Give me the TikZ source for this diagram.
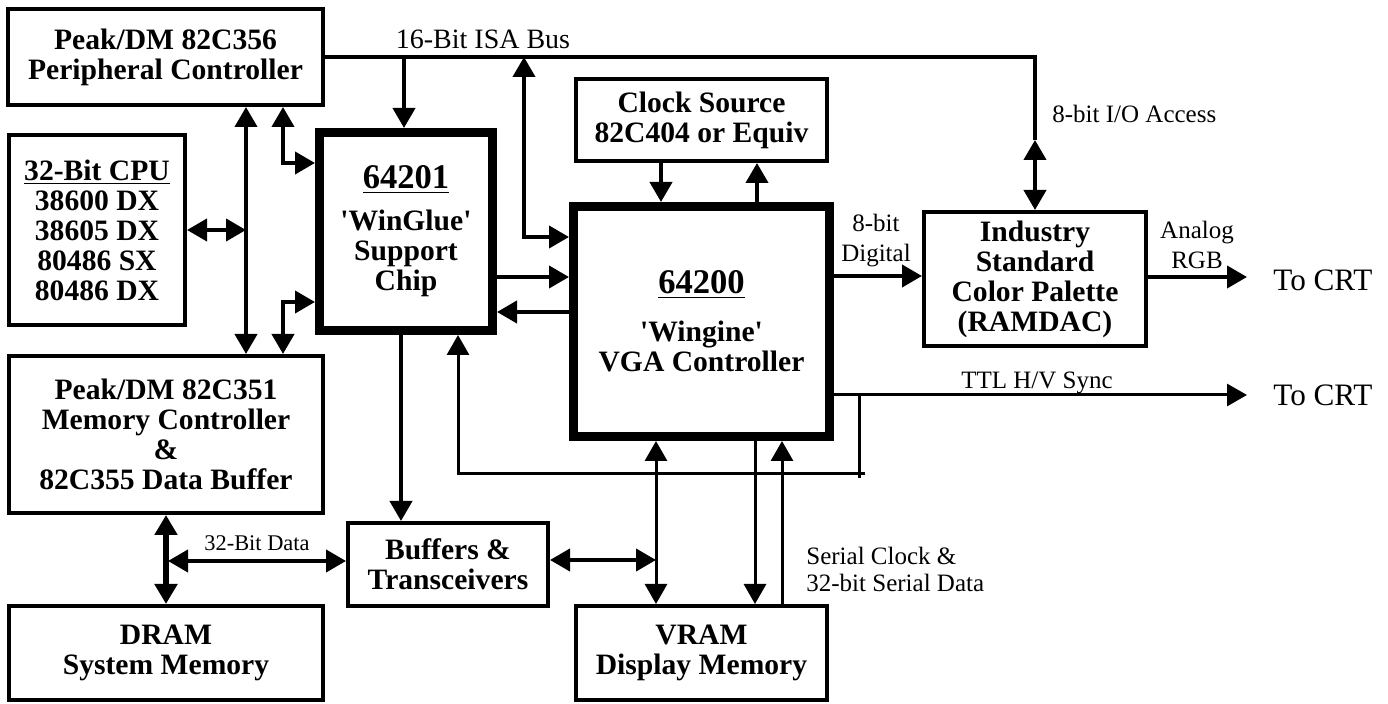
\documentclass[tikz,border=0pt]{standalone}
\usepackage{fontspec}
\setmainfont{Liberation Serif}
\usetikzlibrary{arrows.meta}
\newcommand\bxfont{\fontsize{14.8pt}{15pt}\selectfont\bfseries}
\newcommand\bigfont{\fontsize{17.3pt}{15pt}\selectfont\bfseries}
\newcommand\lbfont{\fontsize{12.5pt}{15pt}\selectfont}
\begin{document}
\begin{tikzpicture}[x=0.5pt,y=-0.5pt, line join=miter,
  >={Triangle[length=10pt,width=11pt]},
  box/.style={draw,line width=2pt,inner sep=0pt,align=center,font=\bxfont},
  heavybox/.style={box,line width=4.5pt},
  wire/.style={line width=2pt},
  thinwire/.style={line width=1.5pt},
  lbl/.style={inner sep=0pt,font=\lbfont},
  crt/.style={inner xsep=13pt,inner ysep=0pt,anchor=west,font=\fontsize{15.6pt}{16pt}\selectfont}]
\useasboundingbox (0,0) rectangle (1388,704);

% boxes
\node[box,minimum width=157.5pt,minimum height=48pt] (periph) at (165.5,57)
  {Peak/DM 82C356\\Peripheral Controller};
\node[box,minimum width=88pt,minimum height=95pt] (cpu) at (97,230)
  {\underline{32-Bit CPU}\\38600 DX\\38605 DX\\80486 SX\\80486 DX};
\node[heavybox,minimum width=86.5pt,minimum height=99pt] (winglue) at (406,231.5)
  {{\bigfont\underline{64201}}\\[6pt]\textquotesingle WinGlue\textquotesingle\\Support\\Chip};
\node[box,minimum width=125.5pt,minimum height=41pt] (clock) at (701.5,120)
  {Clock Source\\82C404 or Equiv};
\node[heavybox,minimum width=128pt,minimum height=115pt] (vga) at (701.5,321.5)
  {{\bigfont\underline{64200}}\\[9pt]\textquotesingle Wingine\textquotesingle\\VGA Controller};
\node[box,minimum width=111pt,minimum height=67pt] (ramdac) at (1035,279)
  {Industry\\Standard\\Color Palette\\(RAMDAC)};
\node[box,minimum width=157pt,minimum height=78.5pt] (memctl) at (166,434.5)
  {Peak/DM 82C351\\Memory Controller\\\&\\82C355 Data Buffer};
\node[box,minimum width=157pt,minimum height=47pt] (dram) at (166,653)
  {DRAM\\System Memory};
\node[box,minimum width=100pt,minimum height=41.5pt] (buffers) at (448,564.5)
  {Buffers \&\\Transceivers};
\node[box,minimum width=125.5pt,minimum height=47pt] (vram) at (701.5,653)
  {VRAM\\Display Memory};

% CRT targets
\node[crt] (crt1) at (1247,280) {To CRT};
\node[crt] (crt2) at (1247,395) {To CRT};

% labels
\node[lbl,anchor=base,font=\fontsize{14pt}{15pt}\selectfont] (isalbl) at (483,49) {16-Bit ISA Bus};
\node[lbl,anchor=base west] (iolbl) at (1052,123) {8-bit I/O Access};
\node[lbl,align=center] (diglbl) at (876,241) {8-bit\\Digital};
\node[lbl,align=center] (anlbl) at (1197,245) {Analog\\RGB};
\node[lbl,anchor=base] (ttllbl) at (1037,389) {TTL H/V Sync};
\node[lbl,anchor=north west,align=left,font=\fontsize{12.5pt}{13.5pt}\selectfont] (serlbl) at (806,547) {Serial Clock \&\\32-bit Serial Data};
\node[lbl,anchor=base,font=\fontsize{11.2pt}{13pt}\selectfont] (datalbl) at (257,551) {32-Bit Data};

% named free-end coordinates
\coordinate (busR) at (1035,57);
\coordinate (ioA) at (1035,140);
\coordinate (isa1) at (404,57);
\coordinate (isa2) at (524,57);
\coordinate (tap) at (859,395);
\coordinate (tapEnd) at (859,478);
\coordinate (fbR) at (865,474);
\coordinate (dataL) at (168,561);
\coordinate (vbus) at (656,560);

% ISA bus
\draw[wire] (periph.east) -- (busR) -- (ioA);
\draw[wire,<->] (ioA) -- (ramdac.north);
\draw[wire,->] (isa1) -- (isa1 |- winglue.north);
\draw[wire,<->] (isa2) |- (vga.west |- 0,237);

% left bus
\draw[wire,<->] (periph.south -| 246,0) -- (memctl.north -| 246,0);
\draw[wire,<->] (cpu.east) -- (cpu.east -| 246,0);
\draw[wire,<->] (periph.south -| 283,0) |- (winglue.west |- 0,163);
\draw[wire,<->] (winglue.west |- 0,302) -| (memctl.north -| 283,0);

% winglue <-> vga
\draw[wire,->] (winglue.east |- 0,277) -- (vga.west |- 0,277);
\draw[wire,->] (vga.west |- 0,312) -- (winglue.east |- 0,312);

% clock
\draw[wire,->] (clock.south -| 661,0) -- (vga.north -| 661,0);
\draw[wire,->] (vga.north -| 757,0) -- (clock.south -| 757,0);

% vga -> ramdac -> crt
\draw[wire,->] (vga.east |- 0,276) -- (ramdac.west |- 0,276);
\draw[wire,->] (ramdac.east |- 0,277) -- (crt1.west |- 0,277);

% sync
\draw[thinwire,->] (vga.east |- tap) -- (crt2.west |- tap);
\draw[thinwire] (tap) -- (tapEnd);
\draw[thinwire,->] (fbR) -| (winglue.south -| 458,0);

% winglue -> buffers
\draw[wire,->] (winglue.south -| 401,0) -- (buffers.north -| 401,0);

% memory side
\draw[line width=2.8pt,<->] (memctl.south) -- (dram.north);
\draw[wire,<->] (dataL) -- (buffers.west |- dataL);
\draw[wire,<->] (buffers.east |- vbus) -- (vbus);
\draw[thinwire,<->] (vga.south -| 656,0) -- (vram.north -| 656,0);
\draw[thinwire,->] (vga.south -| 755,0) -- (vram.north -| 755,0);
\draw[thinwire,->] (vram.north -| 782,0) -- (vga.south -| 782,0);
\end{tikzpicture}
\end{document}
